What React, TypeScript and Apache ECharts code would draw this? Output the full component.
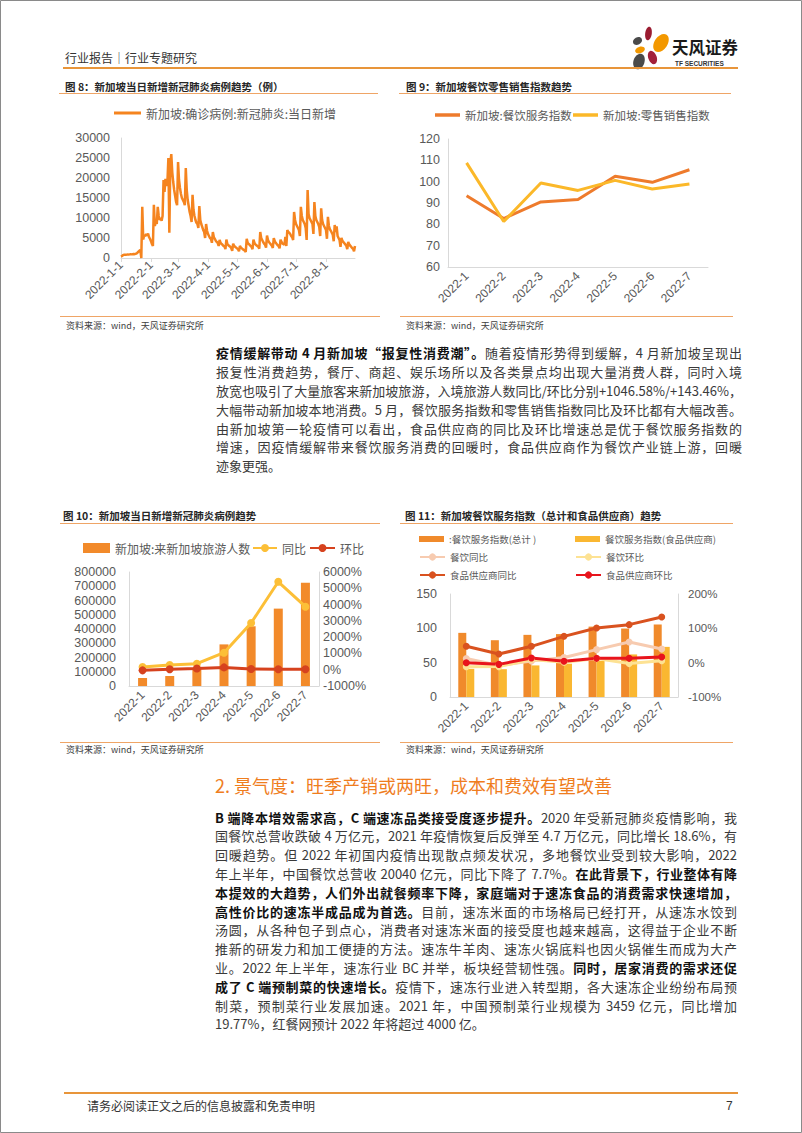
import React, { useEffect, useRef } from "react";
import * as echarts from "echarts";

// ---------- 图 8：新加坡当日新增新冠肺炎病例（每日，自 2022-1-1 起） ----------
const covidStartYear = 2022;
const covidDaily = [
  350, 500, 700, 800, 850, 800, 850, 900, 850, 900, 950, 900, 950, 1000, 950, 1050, 1100,
  1300, 1600, 1800, 2000,
  0,
  12800,
  4600, 5800, 5400, 6000, 5600, 6100, 5200, 4800, 4200, 3500, 3000,
  13300,
  8000, 9000, 8500, 12800, 10500, 9500, 10000, 9300, 10500,
  19500, 16500, 19800, 18000, 19000, 25000, 6300, 23500,
  26000, 21500, 19000, 17000, 15500, 14000, 13200,
  24000, 19500, 17500, 16000, 15000, 14500, 14000, 13200,
  22500, 17000, 14500, 13000, 11500, 10500, 9000,
  15800, 12000, 10500, 9500, 8800, 8500, 7500,
  13000, 9500, 8500, 7800, 7000, 6500, 5000,
  8500, 6800, 6000, 5500, 5000, 4800, 3800,
  6500, 5200, 4800, 4300, 4000, 3800, 3000,
  4500, 3800, 3500, 3300, 3000, 2900, 2200,
  4600, 3500, 3200, 3000, 2800, 2500, 1800,
  3600, 3000, 2800, 2600, 2400, 2200, 1700,
  3000, 2600, 2400, 2200, 2000, 1900, 1500,
  4800, 3800, 3500, 3300, 3000, 2800, 2200,
  4600, 3800, 3400, 3200, 3000, 2800, 2300,
  6500, 5000, 4500, 4000, 3600, 3300, 2600,
  5600, 4500, 4000, 3700, 3400, 3100, 2500,
  5000, 4200, 3800, 3500, 3200, 3000, 2400,
  4600, 4000, 3600, 3500, 3300, 5300, 3000,
  7000, 6500, 6300, 6000, 5500, 5200, 4500,
  11500, 9500, 8500, 8000, 7500, 7000, 5500,
  12800, 10500, 9500, 9000, 8500, 7500, 4500,
  17000, 11000, 10000, 9500, 9000, 8500, 6000,
  14000, 10500, 9500, 9000, 8500, 7800, 5500,
  12400, 9500, 8500, 8000, 7500, 7000, 4800,
  10300, 8000, 7200, 6800, 6300, 5800, 4200,
  8250, 6500, 7900, 5500, 5000, 4500, 2800,
  5000, 4300, 4000, 3700, 3400, 3100, 2200,
  4000, 3400, 3100, 2800, 2500, 2300, 1700,
  3000,
];
const covidDates = covidDaily.map((_, i) => {
  const d = new Date(covidStartYear, 0, 1 + i);
  return `${d.getFullYear()}-${d.getMonth() + 1}-${d.getDate()}`;
});
const covidTicks = [0, 5000, 10000, 15000, 20000, 25000, 30000];

// ---------- 图 9 / 图 11 ----------
const months = ["2022-1", "2022-2", "2022-3", "2022-4", "2022-5", "2022-6", "2022-7"];
const cateringIdx = [93.4, 82.7, 90.5, 91.6, 102.5, 99.7, 105.6];
const retailIdx = [108.8, 81.3, 99.4, 95.9, 100.6, 96.6, 98.9];

// ---------- 图 10 ----------
const visitors = [56000, 70000, 120000, 292000, 419000, 543000, 725000];
const visitorsYoY = [170, 290, 370, 1046.58, 2870, 5400, 3870];
const visitorsMoM = [-40, 25, 71, 143.46, 43, 30, 33];

// ---------- 图 11 ----------
const foodSupplierIdx = [41, 40.5, 46, 48.5, 52.5, 62, 73];
const cateringYoY = [12, -8, 5, 15, 38, 60, 40];
const cateringMoM = [-12, -11.5, 9.4, 1.2, 11.9, -2.7, 5.9];
const supplierYoY = [47.6, 25.2, 47.6, 76.7, 101, 110.7, 133];
const supplierMoM = [0, -4.9, 13.6, 3.9, 12.6, 12.6, 16.5];

// ---------- 正文 ----------
type Seg = [string, boolean?];
const para1: Seg[][] = [
  [["疫情缓解带动 4 月新加坡“报复性消费潮”。", true], ["随着疫情形势得到缓解，4 月新加坡呈现出"]],
  [["报复性消费趋势，餐厅、商超、娱乐场所以及各类景点均出现大量消费人群，同时入境"]],
  [["放宽也吸引了大量旅客来新加坡旅游，入境旅游人数同比/环比分别+1046.58%/+143.46%，"]],
  [["大幅带动新加坡本地消费。5 月，餐饮服务指数和零售销售指数同比及环比都有大幅改善。"]],
  [["由新加坡第一轮疫情可以看出，食品供应商的同比及环比增速总是优于餐饮服务指数的"]],
  [["增速，因疫情缓解带来餐饮服务消费的回暖时，食品供应商作为餐饮产业链上游，回暖"]],
  [["迹象更强。"]],
];
const heading2 = "2. 景气度：旺季产销或两旺，成本和费效有望改善";
const para2: Seg[][] = [
  [["B 端降本增效需求高，C 端速冻品类接受度逐步提升。", true], ["2020 年受新冠肺炎疫情影响，我"]],
  [["国餐饮总营收跌破 4 万亿元，2021 年疫情恢复后反弹至 4.7 万亿元，同比增长 18.6%，有"]],
  [["回暖趋势。但 2022 年初国内疫情出现散点频发状况，多地餐饮业受到较大影响，2022"]],
  [["年上半年，中国餐饮总营收 20040 亿元，同比下降了 7.7%。"], ["在此背景下，行业整体有降", true]],
  [["本提效的大趋势，人们外出就餐频率下降，家庭端对于速冻食品的消费需求快速增加，", true]],
  [["高性价比的速冻半成品成为首选。", true], ["目前，速冻米面的市场格局已经打开，从速冻水饺到"]],
  [["汤圆，从各种包子到点心，消费者对速冻米面的接受度也越来越高，这得益于企业不断"]],
  [["推新的研发力和加工便捷的方法。速冻牛羊肉、速冻火锅底料也因火锅催生而成为大产"]],
  [["业。2022 年上半年，速冻行业 BC 并举，板块经营韧性强。"], ["同时，居家消费的需求还促", true]],
  [["成了 C 端预制菜的快速增长。", true], ["疫情下，速冻行业进入转型期，各大速冻企业纷纷布局预"]],
  [["制菜，预制菜行业发展加速。2021 年，中国预制菜行业规模为 3459 亿元，同比增加"]],
  [["19.77%，红餐网预计 2022 年将超过 4000 亿。"]],
];

const CJK = "Noto Sans CJK SC";
const NUM = "Liberation Sans, Noto Sans CJK SC";
const AXIS_GRAY = "#D9D9D9";
const LABEL = "#595959";
const ORANGE_LINE = "#EFA566";

const isMonthStart = (_i: number, v: string) => v.split("-")[2] === "1";

function lg(name: string, left: number, cy: number, w: number, h: number, fs: number, icon?: string) {
  return {
    data: [icon ? { name, icon } : { name }],
    left,
    top: cy - Math.max(h, fs) / 2,
    padding: 0,
    itemWidth: w,
    itemHeight: h,
    selectedMode: false,
    textStyle: { fontSize: fs, color: LABEL, fontFamily: CJK },
  };
}

function txt(x: number, y: number, text: string, fontSize: number, fill: string, extra: any = {}) {
  return {
    type: "text",
    x,
    y,
    silent: true,
    style: { text, fontSize, fill, fontFamily: CJK, verticalAlign: "middle", align: "left", ...extra },
  };
}
function hline(x1: number, x2: number, y: number, stroke: string, lineWidth: number) {
  return { type: "line", silent: true, shape: { x1, y1: y, x2, y2: y }, style: { stroke, lineWidth } };
}
function petal(x: number, y: number, rx: number, ry: number, rotation: number, fill: string) {
  return { type: "ellipse", x, y, rotation, silent: true, shape: { cx: 0, cy: 0, rx, ry }, style: { fill } };
}

const catAxis = (gridIndex: number, data: string[], margin: number) => ({
  type: "category",
  gridIndex,
  data,
  axisLine: { lineStyle: { color: AXIS_GRAY } },
  axisTick: { show: false },
  axisLabel: { rotate: 45, fontSize: 12, color: LABEL, fontFamily: NUM, margin, interval: 0 },
});
const valAxis = (gridIndex: number, min: number, max: number, interval: number, margin: number, fs: number, pct = false, position = "left") => ({
  type: "value",
  gridIndex,
  position,
  min,
  max,
  interval,
  splitLine: { show: false },
  axisTick: { show: false },
  axisLine: { show: true, lineStyle: { color: AXIS_GRAY } },
  axisLabel: {
    fontSize: fs,
    color: LABEL,
    fontFamily: NUM,
    margin,
    formatter: (v: number) => (pct ? `${v}%` : `${v}`),
  },
});

const lineSeries = (name: string, x: number, y: number, data: number[], color: string, width: number, symbolSize = 0) => ({
  name,
  type: "line",
  xAxisIndex: x,
  yAxisIndex: y,
  data,
  symbol: symbolSize ? "circle" : "none",
  symbolSize,
  showSymbol: !!symbolSize,
  lineStyle: { color, width },
  itemStyle: { color },
  z: 5,
});

const option: any = {
  animation: false,
  backgroundColor: "#ffffff",
  textStyle: { fontFamily: CJK },
  grid: [
    { left: 121, top: 138, width: 234, height: 120 },
    { left: 448, top: 139, width: 260, height: 128 },
    { left: 129, top: 572, width: 190, height: 114 },
    { left: 450, top: 594, width: 228, height: 103 },
  ],
  xAxis: [
    {
      type: "category",
      gridIndex: 0,
      data: covidDates,
      boundaryGap: false,
      axisLine: { lineStyle: { color: AXIS_GRAY } },
      axisTick: { show: true, interval: isMonthStart, length: 4, lineStyle: { color: AXIS_GRAY } },
      axisLabel: { rotate: 45, fontSize: 12, color: LABEL, fontFamily: NUM, margin: 5, interval: isMonthStart },
    },
    catAxis(1, months, 7),
    catAxis(2, months, 7),
    catAxis(3, months, 7),
  ],
  yAxis: [
    valAxis(0, covidTicks[0], covidTicks[covidTicks.length - 1], 5000, 11, 12.5),
    valAxis(1, 60, 120, 10, 8, 12.5),
    valAxis(2, 0, 800000, 100000, 13, 12.5),
    valAxis(2, -1000, 6000, 1000, 4, 12.5, true, "right"),
    valAxis(3, 0, 150, 50, 13, 12.5),
    valAxis(3, -100, 200, 100, 10, 11.5, true, "right"),
  ],
  legend: [
    lg("新加坡:确诊病例:新冠肺炎:当日新增", 114, 113, 27, 3, 12, "rect"),
    lg("新加坡:餐饮服务指数", 435, 115, 25, 3.5, 11.5, "rect"),
    lg("新加坡:零售销售指数", 573, 115, 25, 3.5, 11.5, "rect"),
    lg("新加坡:来新加坡旅游人数", 83, 548, 27, 10, 12, "rect"),
    lg("同比", 252, 548, 24, 10, 12),
    lg("环比", 309, 548, 25, 10, 12),
    lg(":餐饮服务指数(总计 )", 419, 539, 25, 6, 9.5, "rect"),
    lg("餐饮服务指数(食品供应商)", 575, 539, 25, 6, 9.5, "rect"),
    lg("餐饮同比", 419, 557, 25, 9, 9.5),
    lg("餐饮环比", 575, 557, 25, 9, 9.5),
    lg("食品供应商同比", 419, 575, 25, 9, 9.5),
    lg("食品供应商环比", 575, 575, 25, 9, 9.5),
  ],
  series: [
    lineSeries("新加坡:确诊病例:新冠肺炎:当日新增", 0, 0, covidDaily, "#F5841F", 2.5),
    lineSeries("新加坡:餐饮服务指数", 1, 1, cateringIdx, "#EE7B2C", 3),
    lineSeries("新加坡:零售销售指数", 1, 1, retailIdx, "#FBB829", 3),
    {
      name: "新加坡:来新加坡旅游人数",
      type: "bar",
      xAxisIndex: 2,
      yAxisIndex: 2,
      data: visitors,
      barWidth: 9,
      itemStyle: { color: "#F28A2A" },
    },
    lineSeries("同比", 2, 3, visitorsYoY, "#FCBF37", 3, 8),
    lineSeries("环比", 2, 3, visitorsMoM, "#D6421E", 3, 8),
    {
      name: ":餐饮服务指数(总计 )",
      type: "bar",
      xAxisIndex: 3,
      yAxisIndex: 4,
      data: cateringIdx,
      barWidth: 8,
      barGap: "0%",
      itemStyle: { color: "#F08A2B" },
    },
    {
      name: "餐饮服务指数(食品供应商)",
      type: "bar",
      xAxisIndex: 3,
      yAxisIndex: 4,
      data: foodSupplierIdx,
      barWidth: 8,
      barGap: "0%",
      itemStyle: { color: "#FAB731" },
    },
    lineSeries("餐饮同比", 3, 5, cateringYoY, "#F7CBB0", 3, 7),
    lineSeries("餐饮环比", 3, 5, cateringMoM, "#FDE293", 3, 7),
    lineSeries("食品供应商同比", 3, 5, supplierYoY, "#D9521F", 3, 7),
    lineSeries("食品供应商环比", 3, 5, supplierMoM, "#E8141C", 3, 7),
  ],
  graphic: [
    { type: "rect", silent: true, shape: { x: 0.5, y: 0.5, width: 801, height: 1132 }, style: { fill: "none", stroke: "#8a8a8a", lineWidth: 1 } },
    // header
    txt(65, 57, "行业报告｜行业专题研究", 12, "#333333"),
    petal(648.5, 33.5, 3.3, 6.8, -0.15, "#9B1C31"),
    petal(637.5, 41, 4.8, 3.6, 0.5, "#4A4A4A"),
    petal(661, 43, 6.5, 10, -0.6, "#F39800"),
    petal(640, 50, 5, 3.2, 0.3, "#F39800"),
    petal(652.5, 57.5, 4.2, 7, 0.35, "#A3203A"),
    petal(639, 61.5, 5.5, 8, -0.35, "#4A4A4A"),
    txt(672, 46.5, "天风证券", 16.5, "#1a1a1a", { fontWeight: "bold" }),
    txt(675, 63.5, "TF SECURITIES", 6.5, "#333333", { fontWeight: "bold", fontFamily: "Liberation Sans" }),
    hline(63, 738, 68, "#E8953A", 2),
    // captions
    txt(65, 86, "图 8：新加坡当日新增新冠肺炎病例趋势（例）", 10.5, "#262626", { fontWeight: "bold" }),
    txt(406, 86, "图 9：新加坡餐饮零售销售指数趋势", 10.5, "#262626", { fontWeight: "bold" }),
    hline(59, 378, 93.5, ORANGE_LINE, 1),
    hline(399, 731, 93.5, ORANGE_LINE, 1),
    hline(60, 380, 316.5, ORANGE_LINE, 1),
    hline(400, 733, 316.5, ORANGE_LINE, 1),
    txt(66, 325, "资料来源：wind，天风证券研究所", 9, "#404040"),
    txt(406, 325, "资料来源：wind，天风证券研究所", 9, "#404040"),
    txt(63, 515, "图 10：新加坡当日新增新冠肺炎病例趋势", 10.5, "#262626", { fontWeight: "bold" }),
    txt(405, 515, "图 11：新加坡餐饮服务指数（总计和食品供应商）趋势", 10.5, "#262626", { fontWeight: "bold" }),
    hline(60, 380, 523.5, ORANGE_LINE, 1),
    hline(400, 733, 523.5, ORANGE_LINE, 1),
    hline(60, 380, 742.5, ORANGE_LINE, 1),
    hline(400, 733, 742.5, ORANGE_LINE, 1),
    txt(66, 749.5, "资料来源：wind，天风证券研究所", 9, "#404040"),
    txt(406, 749.5, "资料来源：wind，天风证券研究所", 9, "#404040"),
    // footer
    hline(64, 738, 1093, "#E8953A", 2),
    txt(87, 1105.5, "请务必阅读正文之后的信息披露和免责申明", 12, "#333333"),
    txt(726, 1105.5, "7", 12, "#333333", { fontFamily: "Liberation Sans" }),
  ],
};

function Paragraph({ lines, left, top, width, lh }: { lines: Seg[][]; left: number; top: number; width: number; lh: number }) {
  return (
    <>
      {lines.map((segs, i) => (
        <div
          key={i}
          lang="zh-CN"
          style={{
            position: "absolute",
            left,
            top: top + i * lh,
            width,
            height: lh,
            lineHeight: `${lh}px`,
            fontSize: 13,
            color: "#3a3a3a",
            fontFamily: `"${CJK}", sans-serif`,
            textAlign: "justify",
            textAlignLast: i === lines.length - 1 ? "left" : "justify",
          } as React.CSSProperties}
        >
          {segs.map(([t, b], j) => (
            <span key={j} style={b ? { fontWeight: 700, color: "#111111" } : undefined}>
              {t}
            </span>
          ))}
        </div>
      ))}
    </>
  );
}

export default function App() {
  const ref = useRef<HTMLDivElement>(null);
  useEffect(() => {
    if (!ref.current) return;
    const chart = echarts.init(ref.current, null, { renderer: "svg" });
    chart.setOption(option);
    return () => chart.dispose();
  }, []);
  const LH = 18.8;
  return (
    <div style={{ position: "absolute", left: 0, top: 0, width: 802, height: 1133, background: "#fff", overflow: "hidden" }}>
      <div ref={ref} style={{ position: "absolute", left: 0, top: 0, width: 802, height: 1133 }} />
      <Paragraph lines={para1} left={216} top={353.8 - LH / 2} width={526} lh={LH} />
      <div
        lang="zh-CN"
        style={{
          position: "absolute",
          left: 215,
          top: 785 - 12,
          height: 24,
          lineHeight: "24px",
          fontSize: 18,
          color: "#EF7D1E",
          whiteSpace: "nowrap",
          fontFamily: `"${CJK}", sans-serif`,
        }}
      >
        {heading2}
      </div>
      <Paragraph lines={para2} left={215} top={818 - LH / 2} width={522} lh={LH} />
    </div>
  );
}
